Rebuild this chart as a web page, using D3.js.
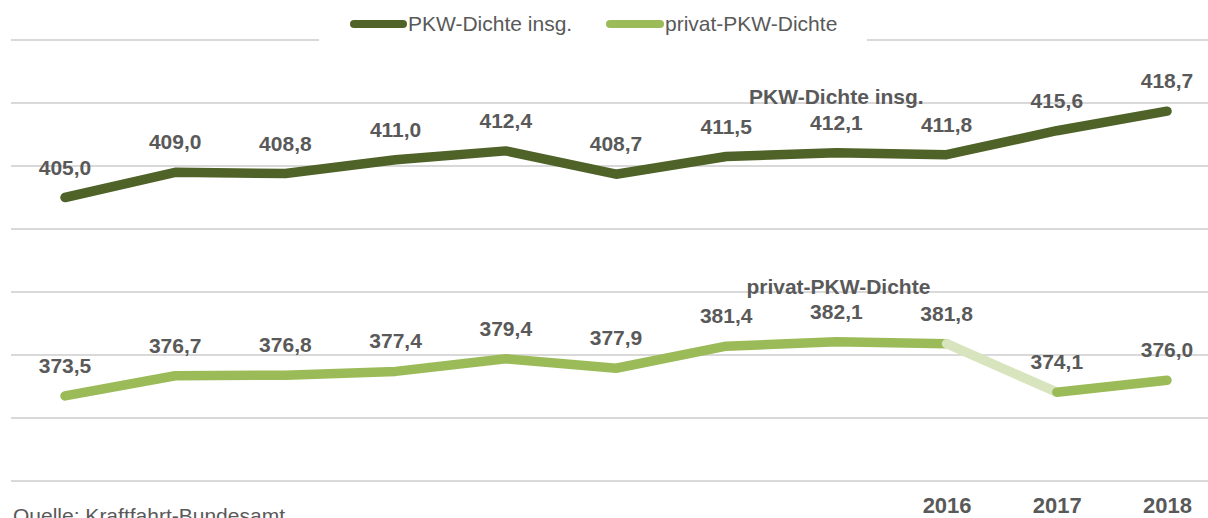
<!DOCTYPE html>
<html>
<head>
<meta charset="utf-8">
<script src="https://cdn.jsdelivr.net/npm/d3@7"></script>
<style>
  html, body { margin: 0; padding: 0; background: #fff; }
  svg { display: block; font-family: "Liberation Sans", Arial, sans-serif; }
</style>
</head>
<body>
<svg id="chart" width="1208" height="518"></svg>
<script>
const categories = ["2008","2009","2010","2011","2012","2013","2014","2015","2016","2017","2018"];
const tickLabels = ["","","","","","","","","2016","2017","2018"];
const pkwInsg   = [405.0, 409.0, 408.8, 411.0, 412.4, 408.7, 411.5, 412.1, 411.8, 415.6, 418.7];
const pkwPrivat = [373.5, 376.7, 376.8, 377.4, 379.4, 377.9, 381.4, 382.1, 381.8, 374.1, 376.0];
const seriesNames = ["PKW-Dichte insg.", "privat-PKW-Dichte"];
const gridValues = [360, 370, 380, 390, 400, 410, 420, 430];
const sourceText = "Quelle: Kraftfahrt-Bundesamt";

const W = 1208, H = 518;
const svg = d3.select("#chart");
const textColor = "#595959";
const darkGreen = "#4f6228", lightGreen = "#9bbb59", paleGreen = "#d7e4bd";

const x = d3.scalePoint().domain(categories).range([65, 1167]);
const y = d3.scaleLinear().domain([360, 430]).range([481, 40]);
const fmt = d3.formatLocale({decimal: ",", thousands: ".", grouping: [3], currency: ["", "€"]}).format(".1f");

// gridlines
svg.append("g").selectAll("line").data(gridValues).join("line")
  .attr("x1", 11).attr("x2", W)
  .attr("y1", d => y(d)).attr("y2", d => y(d))
  .attr("stroke", "#d9d9d9").attr("stroke-width", 2);

// x axis labels
const xAxis = d3.axisBottom(x).tickSize(0).tickFormat((d, i) => tickLabels[i]);
const gx = svg.append("g").attr("transform", `translate(0,${y(360)})`).call(xAxis);
gx.select(".domain").remove();
gx.selectAll("text")
  .attr("dy", null).attr("y", 32)
  .attr("fill", textColor).attr("font-size", 22).attr("font-weight", "bold")
  .attr("font-family", "Liberation Sans, Arial, sans-serif");

const line = d3.line().x(d => x(d.c)).y(d => y(d.v));
const toPts = arr => arr.map((v, i) => ({c: categories[i], v}));

function drawPath(pts, color) {
  svg.append("path").datum(pts).attr("d", line)
    .attr("fill", "none").attr("stroke", color).attr("stroke-width", 9.5)
    .attr("stroke-linecap", "round").attr("stroke-linejoin", "round");
}

const insgPts = toPts(pkwInsg);
drawPath(insgPts, darkGreen);

const privPts = toPts(pkwPrivat);
const breakAt = 8; // segment between 2016 and 2017 is drawn pale
drawPath(privPts.slice(0, breakAt + 1), lightGreen);
drawPath(privPts.slice(breakAt, breakAt + 2), paleGreen);
drawPath(privPts.slice(breakAt + 1), lightGreen);

// value labels
function labels(pts) {
  svg.append("g").selectAll("text").data(pts).join("text")
    .attr("x", d => x(d.c)).attr("y", d => y(d.v) - 23)
    .attr("text-anchor", "middle").attr("fill", textColor)
    .attr("font-size", 21).attr("font-weight", "bold")
    .text(d => fmt(d.v));
}
labels(insgPts);
labels(privPts);

// series name labels
svg.append("text").attr("x", x(categories[7])).attr("y", y(419.8))
  .attr("text-anchor", "middle").attr("fill", textColor)
  .attr("font-size", 21).attr("font-weight", "bold").text(seriesNames[0]);
svg.append("text").attr("x", x(categories[7]) + 2).attr("y", y(389.7))
  .attr("text-anchor", "middle").attr("fill", textColor)
  .attr("font-size", 21).attr("font-weight", "bold").text(seriesNames[1]);

// legend
const lg = svg.append("g");
lg.append("rect").attr("x", 319).attr("y", 0).attr("width", 548).attr("height", 46).attr("fill", "#fff");
const legendItems = [
  {name: seriesNames[0], color: darkGreen, x0: 354, x1: 403, tx: 408},
  {name: seriesNames[1], color: lightGreen, x0: 610, x1: 660, tx: 665}
];
legendItems.forEach(it => {
  lg.append("line").attr("x1", it.x0).attr("x2", it.x1).attr("y1", 24).attr("y2", 24)
    .attr("stroke", it.color).attr("stroke-width", 8).attr("stroke-linecap", "round");
  lg.append("text").attr("x", it.tx).attr("y", 31).attr("fill", textColor)
    .attr("font-size", 21).text(it.name);
});

// source
svg.append("text").attr("x", 13).attr("y", 523).attr("fill", textColor)
  .attr("font-size", 21).text(sourceText);
</script>
</body>
</html>
